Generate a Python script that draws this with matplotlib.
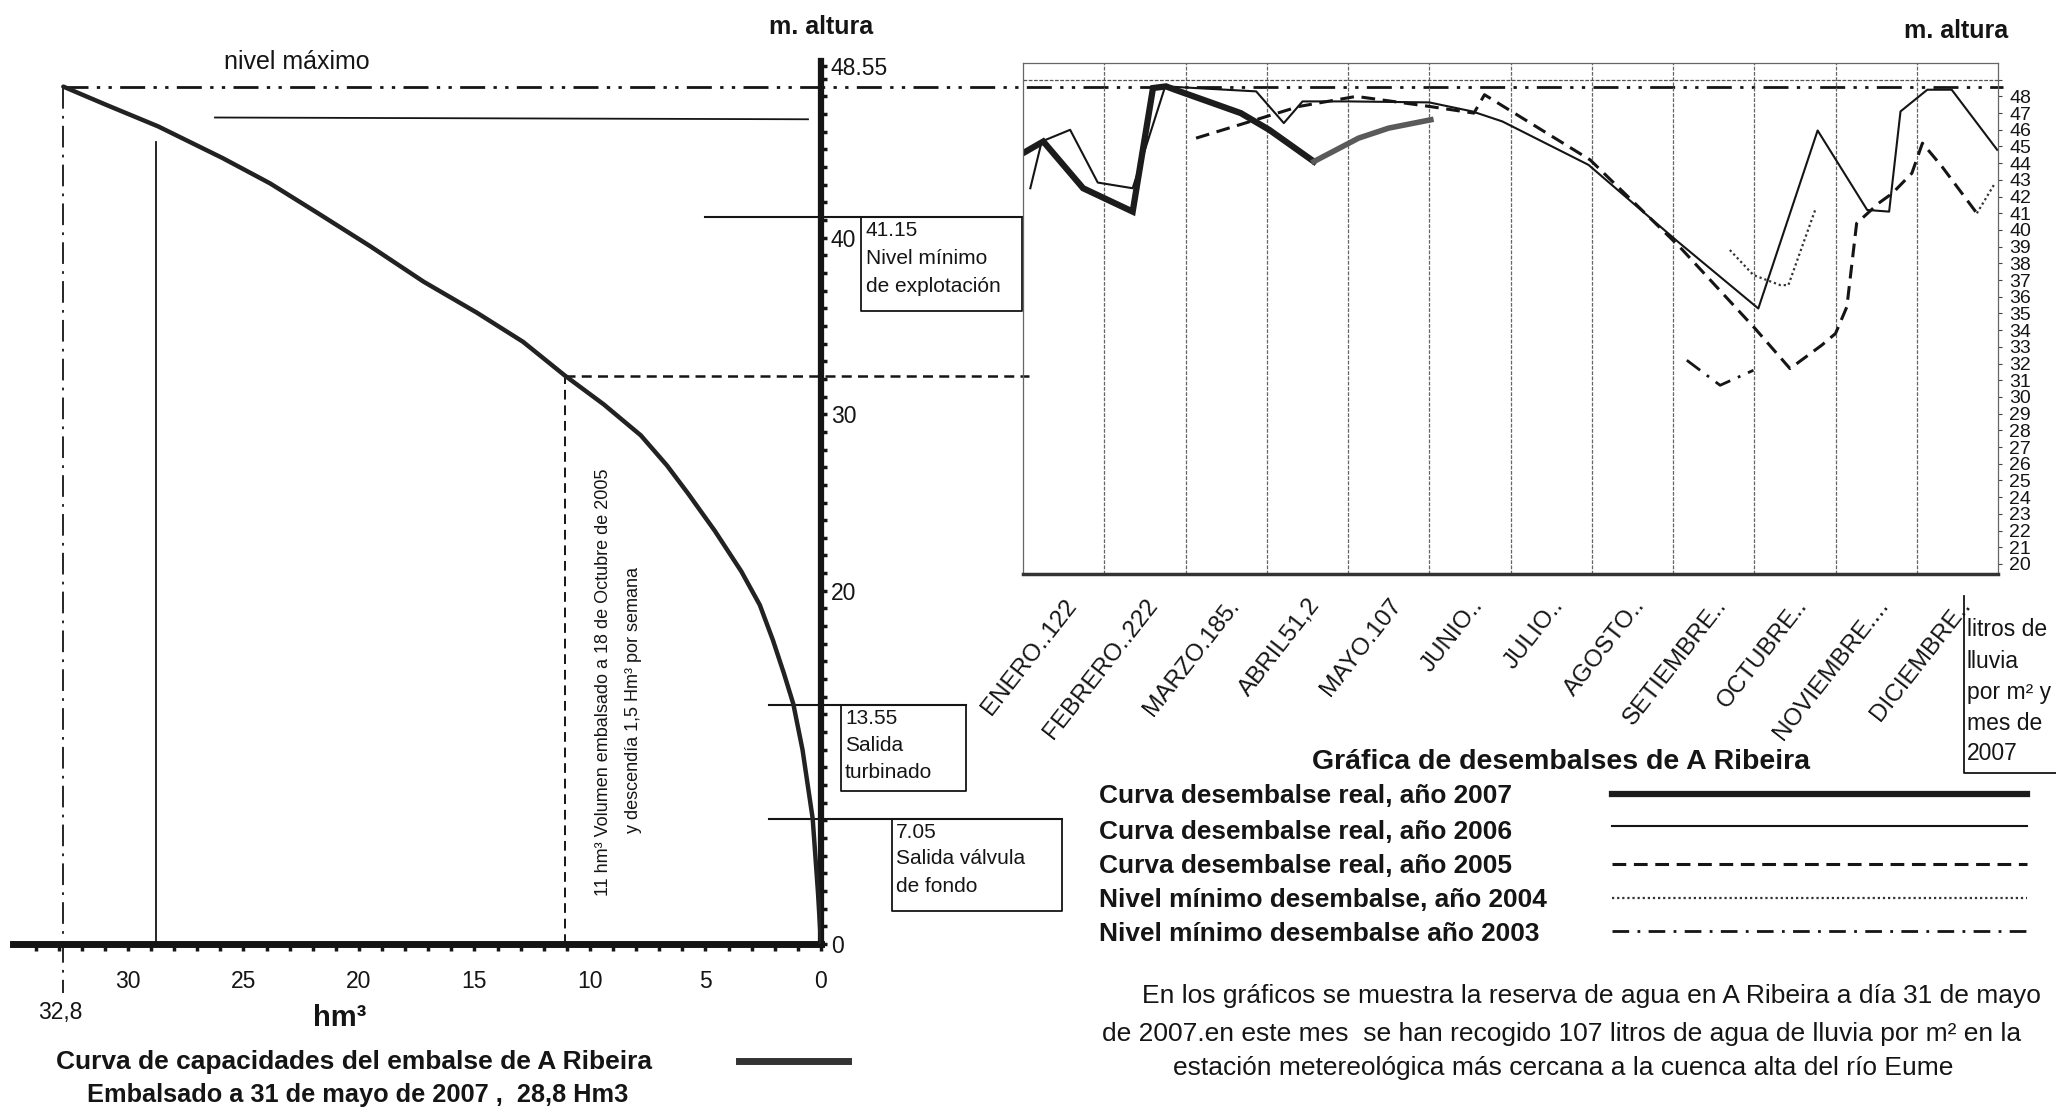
import matplotlib
matplotlib.use('Agg')
import matplotlib.pyplot as plt
from matplotlib import font_manager
import numpy as np

W, H = 2056, 1110
names = {f.name for f in font_manager.fontManager.ttflist}
FONT = 'Liberation Sans' if 'Liberation Sans' in names else 'DejaVu Sans'
plt.rcParams['font.family'] = [FONT, 'DejaVu Sans']

# ---------------- data: capacity curve (left) ----------------
cap_vol = [32.8, 30.95, 28.7, 25.9, 23.85, 21.8, 19.5, 17.2, 14.9, 12.9, 11.1, 9.4, 7.8, 6.67,
           5.75, 4.6, 3.45, 2.65, 2.08, 1.6, 1.2, 0.8, 0.36, 0.13, 0.0]
cap_h = [48.55, 47.52, 46.3, 44.5, 43.07, 41.4, 39.5, 37.5, 35.75, 34.1, 32.2, 30.55, 28.8, 27.1,
         25.5, 23.4, 21.1, 19.2, 17.2, 15.3, 13.6, 11.0, 7.1, 2.9, 0.0]
nivel_maximo = 48.55
nivel_min_explot = 41.15
salida_turbinado = 13.55
salida_valvula = 7.05
vol_oct_2005 = 11.1
h_oct_2005 = 32.16
vol_may_2007 = 28.8
vol_max = 32.8
h_line_top = 46.8
left_xticks = [30, 25, 20, 15, 10, 5, 0]
left_yticks = [0, 20, 30, 40]
left_top_label = '48.55'

# ---------------- data: reservoir levels by month (right) ----------------
months = ['ENERO..122', 'FEBRERO..222', 'MARZO.185.', 'ABRIL51,2', 'MAYO.107', 'JUNIO..',
          'JULIO..', 'AGOSTO..', 'SETIEMBRE..', 'OCTUBRE..', 'NOVIEMBRE....', 'DICIEMBRE..']
x2007 = [0.0, 0.25, 0.74, 1.35, 1.6, 1.76, 1.87, 2.68, 3.03, 3.58, 4.13, 4.5, 5.02]
y2007 = [44.6, 45.3, 42.5, 41.1, 48.5, 48.6, 48.4, 47.0, 46.0, 44.1, 45.5, 46.1, 46.6]
x2006 = [0.09, 0.23, 0.58, 0.92, 1.35, 1.75, 2.87, 3.21, 3.44, 4.0, 5.0, 5.53, 5.9, 6.96, 8.06,
         9.05, 9.78, 10.39, 10.66, 10.8, 11.13, 11.43, 11.99]
y2006 = [42.5, 45.3, 46.0, 42.84, 42.5, 48.6, 48.3, 46.4, 47.7, 47.7, 47.64, 47.1, 46.5, 43.9, 39.3,
         35.3, 45.96, 41.2, 41.1, 47.1, 48.4, 48.4, 44.8]
x2005 = [2.13, 3.4, 4.1, 5.0, 5.55, 5.68, 6.98, 8.08, 9.01, 9.44, 9.83, 10.0, 10.14, 10.26, 10.53,
         10.7, 10.94, 11.07, 11.31, 11.74]
y2005 = [45.5, 47.4, 48.0, 47.4, 47.0, 48.1, 44.2, 39.0, 34.1, 31.7, 33.1, 33.8, 35.4, 40.4, 41.6,
         42.2, 43.4, 45.2, 43.8, 41.0]
x2004 = [8.7, 8.99, 9.32, 9.42, 9.75, np.nan, 11.74, 11.95]
y2004 = [38.8, 37.3, 36.7, 36.7, 41.2, np.nan, 41.0, 42.7]
x2003 = [8.17, 8.58, 8.99]
y2003 = [32.2, 30.7, 31.6]
right_yticks = list(range(20, 49))

legend_labels = ['Curva desembalse real, año 2007', 'Curva desembalse real, año 2006',
                 'Curva desembalse real, año 2005', 'Nivel mínimo desembalse, año 2004',
                 'Nivel mínimo desembalse año 2003']

# ---------------- layout helpers ----------------
L0X, L0Y, SX, SY = 821.0, 944.0, 23.1, 17.66
def vx(px):
    return (L0X - px) / SX
def hy(py):
    return (L0Y - py) / SY
def frac(x0, y0, x1, y1):
    return [x0 / W, 1 - y1 / H, (x1 - x0) / W, (y1 - y0) / H]

INK = '#151515'
fig = plt.figure(figsize=(W / 100, H / 100), dpi=100)
fig.patch.set_facecolor('white')

axT = fig.add_axes([0, 0, 1, 1])
axT.set_xlim(0, W)
axT.set_ylim(H, 0)
axT.axis('off')
axT.patch.set_alpha(0)

# ---------------- left panel ----------------
ax1 = fig.add_axes(frac(13, 61, 821, 944))
ax1.patch.set_alpha(0)
ax1.set_xlim(vx(13), 0)
ax1.set_ylim(0, hy(61))
for s in ['left', 'top']:
    ax1.spines[s].set_visible(False)
ax1.spines['bottom'].set_linewidth(5)
ax1.spines['bottom'].set_color(INK)
ax1.spines['right'].set_linewidth(4.5)
ax1.spines['right'].set_color(INK)
ax1.yaxis.tick_right()
ax1.set_xticks(left_xticks)
ax1.set_xticks(range(0, 35), minor=True)
ax1.set_yticks(left_yticks + [hy(66)], [str(v) for v in left_yticks] + [left_top_label])
ax1.set_yticks(range(0, 50), minor=True)
ax1.tick_params(axis='x', which='both', direction='out', length=5, width=2.5, color=INK,
                labelsize=16.5, pad=14, labelcolor=INK)
ax1.tick_params(axis='y', which='both', direction='out', length=4, width=2.5, color=INK,
                labelsize=16.5, pad=3, labelcolor=INK)

ax1.plot(cap_vol, cap_h, color='#222', lw=3.2, solid_capstyle='round',
         solid_joinstyle='round', zorder=5)
ax1.plot([vol_max, vx(2003)], [nivel_maximo, nivel_maximo], color=INK, lw=2.0,
         ls=(0, (9, 3, 1.2, 3, 1.2, 3)), clip_on=False, zorder=4)
ax1.plot([vol_max, vol_max], [nivel_maximo, hy(993)], color=INK, lw=1.3,
         ls=(0, (12, 4, 1.5, 4)), clip_on=False)
ax1.plot([vol_may_2007, vol_may_2007], [0, 45.4], color=INK, lw=1.3)
ax1.plot([vx(215), vx(808)], [h_line_top, h_line_top - 0.1], color=INK, lw=1.3)
ax1.plot([vol_oct_2005, vol_oct_2005], [0, h_oct_2005], color=INK, lw=1.4, ls=(0, (5, 3)))
ax1.plot([vol_oct_2005, vx(1029)], [h_oct_2005, h_oct_2005], color=INK, lw=1.8,
         ls=(0, (4, 2.5)), clip_on=False)
ax1.plot([5.0, vx(1022)], [nivel_min_explot] * 2, color=INK, lw=1.5, clip_on=False)
ax1.plot([vx(861), vx(861), vx(1022), vx(1022)],
         [nivel_min_explot, hy(311), hy(311), nivel_min_explot], color=INK, lw=1.3, clip_on=False)
ax1.plot([vx(769), vx(966)], [salida_turbinado] * 2, color=INK, lw=1.5, clip_on=False)
ax1.plot([vx(841), vx(841), vx(966), vx(966)],
         [salida_turbinado, hy(791), hy(791), salida_turbinado], color=INK, lw=1.3, clip_on=False)
ax1.plot([vx(769), vx(1062)], [salida_valvula] * 2, color=INK, lw=1.5, clip_on=False)
ax1.plot([vx(892), vx(892), vx(1062), vx(1062)],
         [salida_valvula, hy(911), hy(911), salida_valvula], color=INK, lw=1.3, clip_on=False)

box_fs = 15
for i, t in enumerate(['41.15', 'Nivel mínimo', 'de explotación']):
    axT.text(866, 230 + 28 * i, t, fontsize=box_fs, va='center', ha='left', color=INK)
for i, t in enumerate(['13.55', 'Salida', 'turbinado']):
    axT.text(845, 718 + 27.5 * i, t, fontsize=box_fs, va='center', ha='left', color=INK)
for i, t in enumerate(['7.05', 'Salida válvula', 'de fondo']):
    axT.text(896, 832 + 27 * i, t, fontsize=box_fs, va='center', ha='left', color=INK)

axT.text(821, 27, 'm. altura', fontsize=18, fontweight='bold', ha='center', va='center', color=INK)
axT.text(297, 62, 'nivel máximo', fontsize=18, ha='center', va='center', color=INK)
axT.text(60, 1012, '32,8', fontsize=16.5, ha='center', va='center', color=INK)
axT.text(340, 1018, 'hm³', fontsize=21, fontweight='bold', ha='center', va='center', color=INK)
axT.text(603, 682, '11 hm³ Volumen embalsado a 18 de Octubre de 2005', fontsize=13,
         rotation=90, ha='center', va='center', color=INK)
axT.text(633, 700, 'y descendía 1,5 Hm³ por semana', fontsize=13,
         rotation=90, ha='center', va='center', color=INK)
axT.text(56, 1062, 'Curva de capacidades del embalse de A Ribeira', fontsize=19,
         fontweight='bold', ha='left', va='center', color=INK)
axT.text(87, 1095, 'Embalsado a 31 de mayo de 2007 ,  28,8 Hm3', fontsize=18.3,
         fontweight='bold', ha='left', va='center', color=INK)
axT.plot([739, 848], [1061, 1061], color='#333', lw=5)

# ---------------- right panel ----------------
ax2 = fig.add_axes(frac(1023, 63, 1998, 574))
ax2.patch.set_alpha(0)
ax2.set_xlim(0, 12)
ax2.set_ylim(19.4, 50.0)
ax2.yaxis.tick_right()
ax2.set_yticks(right_yticks, [str(v) for v in right_yticks])
ax2.set_yticks(range(20, 50), minor=True)
ax2.tick_params(axis='y', which='both', length=3, width=0.8, color='#444', labelsize=14,
                pad=5, labelcolor=INK)
ax2.set_xticks(np.arange(0.5, 12, 1), months, rotation=52, ha='right', va='top',
               rotation_mode='anchor', fontsize=17.5, color=INK)
ax2.set_xticks(range(1, 12), minor=True)
ax2.tick_params(axis='x', which='both', length=0, pad=15)
ax2.grid(axis='y', which='minor', color='#555', lw=0.9, ls=(0, (3, 1.2)))
ax2.grid(axis='x', which='minor', color='#666', lw=0.9, ls=(0, (3, 1.2)))
for s in ['top', 'left', 'right']:
    ax2.spines[s].set_color('#666')
    ax2.spines[s].set_linewidth(0.9)
ax2.spines['bottom'].set_color('#333')
ax2.spines['bottom'].set_linewidth(2.5)

st2007 = dict(color='#1c1c1c', lw=4.5, ls='-', solid_joinstyle='miter')
st2006 = dict(color=INK, lw=1.5, ls='-')
st2005 = dict(color=INK, lw=2.2, ls=(0, (4.5, 2.5)))
st2004 = dict(color='#333', lw=1.6, ls=(0, (1, 1.3)))
st2003 = dict(color=INK, lw=2.0, ls=(0, (6, 3, 1, 3)))
ax2.plot(x2005, y2005, **st2005)
ax2.plot(x2004, y2004, **st2004)
ax2.plot(x2003, y2003, **st2003)
ax2.plot(x2006, y2006, **st2006)
ax2.plot(x2007[:10], y2007[:10], **st2007)
st2007b = dict(st2007, color='#5a5a5a', lw=4.0)
ax2.plot(x2007[9:], y2007[9:], **st2007b)

axT.text(1956, 31, 'm. altura', fontsize=18, fontweight='bold', ha='center', va='center', color=INK)

axT.plot([1964, 1964, 2056], [596, 773, 773], color=INK, lw=1.3)
for i, t in enumerate(['litros de', 'lluvia', 'por m² y', 'mes de', '2007']):
    axT.text(1967, 630 + 31 * i, t, fontsize=16.5, ha='left', va='center', color=INK)

axT.text(1561, 762, 'Gráfica de desembalses de A Ribeira', fontsize=20.5, fontweight='bold',
         ha='center', va='center', color=INK)
leg_y = [796, 832, 866, 900, 934]
leg_line_y = [794, 826, 864, 898, 931]
styles = [st2007, st2006, st2005, st2004, st2003]
for lab, ty, ly, st in zip(legend_labels, leg_y, leg_line_y, styles):
    axT.text(1099, ty, lab, fontsize=18.9, fontweight='bold', ha='left', va='center', color=INK)
    axT.plot([1612, 2027], [ly, ly], **st)

axT.text(1142, 996, 'En los gráficos se muestra la reserva de agua en A Ribeira a día 31 de mayo',
         fontsize=19, ha='left', va='center', color=INK)
axT.text(1562, 1034, 'de 2007.en este mes  se han recogido 107 litros de agua de lluvia por m² en la',
         fontsize=19, ha='center', va='center', color=INK)
axT.text(1563, 1068, 'estación metereológica más cercana a la cuenca alta del río Eume',
         fontsize=19, ha='center', va='center', color=INK)

fig.savefig('out.png', dpi=100, facecolor='white')
